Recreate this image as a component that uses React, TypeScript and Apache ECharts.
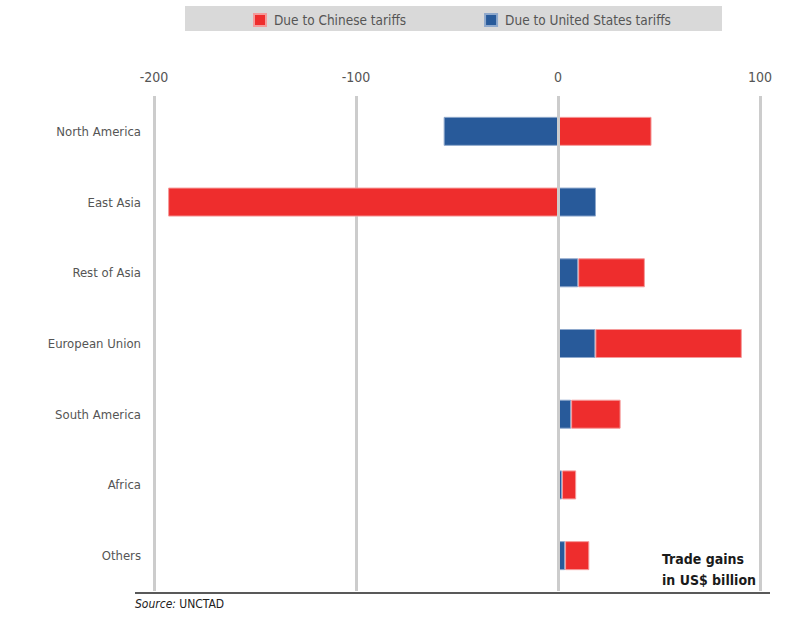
import React, { useEffect, useRef } from "react";
import * as echarts from "echarts";

const regions = ["North America", "East Asia", "Rest of Asia", "European Union", "South America", "Africa", "Others"];
const chinaTariffs = [46.3, -193, 33, 72.5, 24.5, 7, 12];
const usTariffs = [-56.6, 18.8, 10, 18.5, 6.5, 2, 3.5];
const xTicks = [-200, -100, 0, 100];

const FONT = "'Liberation Sans Narrow', 'DejaVu Sans Condensed', 'Roboto Condensed', 'Liberation Sans', Arial, sans-serif";
const RED = "#ee2d2d";
const BLUE = "#285a9a";

export default function App() {
  const ref = useRef<HTMLDivElement>(null);
  useEffect(() => {
    document.body.style.margin = "0";
    const chart = echarts.init(ref.current!, null, { renderer: "svg" });
    chart.setOption({
      animation: false,
      backgroundColor: "#ffffff",
      textStyle: { fontFamily: FONT },
      legend: {
        data: ["Due to Chinese tariffs", "Due to United States tariffs"],
        top: 8,
        left: 248,
        itemWidth: 12,
        itemHeight: 12,
        itemGap: 78,
        icon: "rect",
        textStyle: { fontFamily: FONT, fontSize: 13.5, color: "#555", padding: [0, 0, 0, 3] },
      },
      grid: { left: 154, right: 40, top: 96, height: 495, containLabel: false },
      xAxis: {
        type: "value",
        position: "top",
        min: -200,
        max: 100,
        interval: 100,
        axisLine: { show: false },
        axisTick: { show: false },
        axisLabel: {
          fontFamily: FONT,
          fontSize: 14,
          color: "#555",
          margin: 12,
          formatter: (v: number) => (xTicks.includes(v) ? String(v) : ""),
        },
        splitLine: { show: true, lineStyle: { color: "#cccccc", width: 3 } },
      },
      yAxis: {
        type: "category",
        data: regions,
        inverse: true,
        axisLine: { show: false },
        axisTick: { show: false },
        axisLabel: { fontFamily: FONT, fontSize: 13, color: "#555", margin: 13 },
      },
      series: [
        {
          name: "Due to United States tariffs",
          type: "bar",
          stack: "total",
          barWidth: 29,
          data: usTariffs,
          itemStyle: { color: BLUE, borderColor: "#8ea8cc", borderWidth: 1 },
          markLine: {
            silent: true,
            symbol: ["none", "none"],
            label: { show: false },
            lineStyle: { color: "#cccccc", width: 3, type: "solid" },
            data: [{ xAxis: 0 }],
          },
        },
        {
          name: "Due to Chinese tariffs",
          type: "bar",
          stack: "total",
          barWidth: 29,
          data: chinaTariffs,
          itemStyle: { color: RED, borderColor: "#f59a9a", borderWidth: 1 },
        },
      ],
      graphic: [
        {
          type: "rect",
          z: -1,
          shape: { x: 185, y: 6, width: 537, height: 25 },
          style: { fill: "#d9d9d9" },
        },
        {
          type: "line",
          shape: { x1: 135, y1: 593, x2: 770, y2: 593 },
          style: { stroke: "#222", lineWidth: 1.5 },
        },
        {
          type: "text",
          right: 44,
          top: 548,
          style: {
            text: "Trade gains\nin US$ billion",
            font: `bold 14px ${FONT}`,
            fill: "#1a1a1a",
            align: "left",
            lineHeight: 21,
          },
        },
        {
          type: "text",
          left: 135,
          top: 598,
          style: {
            text: "{i|Source:} {n|UNCTAD}",
            rich: {
              i: { fontStyle: "italic", fontSize: 12, fontFamily: FONT, fill: "#222" },
              n: { fontSize: 12, fontFamily: FONT, fill: "#222" },
            },
          },
        },
      ],
    });
    return () => chart.dispose();
  }, []);
  return <div ref={ref} style={{ width: 800, height: 621 }} />;
}
